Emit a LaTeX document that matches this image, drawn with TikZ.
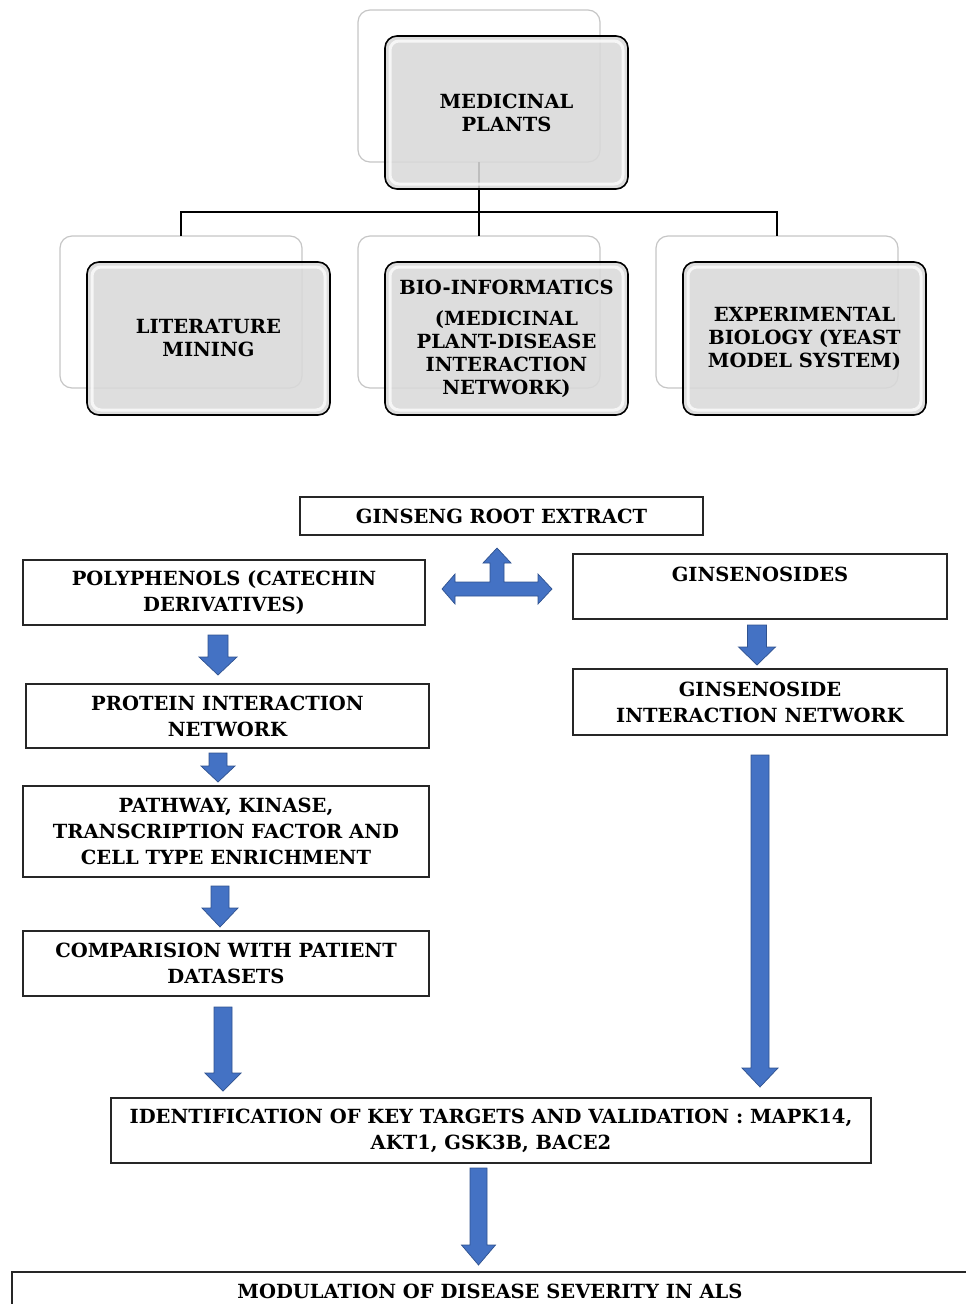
\documentclass[tikz,border=0pt]{standalone}
\usepackage{fontspec}
\setmainfont{DejaVu Serif}
\definecolor{arrowblue}{HTML}{4472C4}
\definecolor{arrowedge}{HTML}{2F528F}
\definecolor{boxgray}{HTML}{D9D9D9}
\newcommand\dnarrow[6]{%
  \filldraw[bluearrow] ({#1-#5},#2) -- ({#1+#5},#2) -- ({#1+#5},#3) -- ({#1+#6},#3)
    -- (#1,#4) -- ({#1-#6},#3) -- ({#1-#5},#3) -- cycle;}
\begin{document}
\begin{tikzpicture}[x=1pt,y=-1pt,
  backbox/.style={draw=gray!45, line width=1.2pt, fill=white, rounded corners=12pt,
    minimum width=242pt, minimum height=152pt, inner sep=0pt, outer sep=0pt},
  frontbox/.style={draw=black, line width=1.6pt, fill=boxgray, fill opacity=0.88, text opacity=1,
    rounded corners=12pt, minimum width=243pt, minimum height=153pt, inner sep=0pt, outer sep=0pt,
    align=center, font=\fontsize{19.5}{23}\selectfont\bfseries},
  glow/.style={draw=white, line width=3pt, opacity=0.75, rounded corners=9pt},
  flowbox/.style={draw=black!85, line width=1.3pt, fill=white, inner sep=0pt, outer sep=0pt,
    align=center, font=\fontsize{19.5}{26}\selectfont\bfseries},
  conn/.style={draw=black, line width=1.1pt},
  bluearrow/.style={fill=arrowblue, draw=arrowedge, line width=0.7pt, line join=miter}
]
\useasboundingbox (0,0) rectangle (966,1304);

% ---------- top hierarchy ----------
\node[backbox] (mpB)  at (479,86) {};
\node[backbox] (litB) at (181,312) {};
\node[backbox] (bioB) at (479,312) {};
\node[backbox] (expB) at (777,312) {};

\draw[conn] (mpB.south) -- (479,212) coordinate (hub);
\draw[conn] (litB.north) |- (hub) -| (expB.north);
\draw[conn] (hub) -- (bioB.north);

\node[frontbox] (mp)  at (506.5,112.5) {MEDICINAL\\PLANTS};
\node[frontbox] (lit) at (208.5,338.5) {LITERATURE\\MINING};
\node[frontbox] (bio) at (506.5,338.5) {BIO-INFORMATICS\\[8pt](MEDICINAL\\PLANT-DISEASE\\INTERACTION\\NETWORK)};
\node[frontbox] (exp) at (804.5,338.5) {EXPERIMENTAL\\BIOLOGY (YEAST\\MODEL SYSTEM)};
\foreach \n in {mp,lit,bio,exp}{
  \draw[glow] ([shift={(5pt,5pt)}]\n.south west) rectangle ([shift={(-5pt,-5pt)}]\n.north east);
}

% ---------- flow chart ----------
\node[flowbox, minimum width=403pt, minimum height=38pt] (root) at (501.5,516) {GINSENG ROOT EXTRACT};
\node[flowbox, minimum width=402pt, minimum height=65pt] (poly) at (224,592.5) {POLYPHENOLS (CATECHIN\\DERIVATIVES)};
\node[flowbox, minimum width=374pt, minimum height=65pt] (gins) at (760,586.5) {};
\node[font=\fontsize{19.5}{26}\selectfont\bfseries, inner sep=0pt] (ginsT) at (760,574) {GINSENOSIDES};
\node[flowbox, minimum width=403pt, minimum height=64pt] (prot) at (227.5,716) {PROTEIN INTERACTION\\NETWORK};
\node[flowbox, minimum width=406pt, minimum height=91pt] (path) at (226,831.5) {PATHWAY, KINASE,\\TRANSCRIPTION FACTOR AND\\CELL TYPE ENRICHMENT};
\node[flowbox, minimum width=406pt, minimum height=65pt] (comp) at (226,963.5) {COMPARISION WITH PATIENT\\DATASETS};
\node[flowbox, minimum width=374pt, minimum height=66pt] (gnet) at (760,702) {GINSENOSIDE\\INTERACTION NETWORK};
\node[flowbox, minimum width=760pt, minimum height=65pt] (ident) at (491,1130.5) {IDENTIFICATION OF KEY TARGETS AND VALIDATION : MAPK14,\\AKT1, GSK3B, BACE2};
\draw[flowbox] (12,1272) rectangle (980,1330);
\node[font=\fontsize{19.5}{26}\selectfont\bfseries, inner sep=0pt] (modul) at (490,1291) {MODULATION OF DISEASE SEVERITY IN ALS};

% ---------- blue block arrows ----------
\filldraw[bluearrow] (497,548) -- (511,563) -- (504,563) -- (504,582) -- (538,582) -- (538,574)
  -- (552,589) -- (538,604) -- (538,596) -- (455,596) -- (455,604) -- (442,589) -- (455,574)
  -- (455,582) -- (490,582) -- (490,563) -- (483,563) -- cycle;
\dnarrow{218}{635}{657}{675}{10}{19}
\dnarrow{218}{753}{766}{782}{9}{17}
\dnarrow{220}{886}{908}{927}{9}{18}
\dnarrow{223}{1007}{1073}{1091}{9}{18}
\dnarrow{757}{625}{647}{665}{9.5}{18.5}
\dnarrow{760}{755}{1068}{1087}{9}{18}
\dnarrow{478.5}{1168}{1245}{1265}{8.5}{17}
\end{tikzpicture}
\end{document}
